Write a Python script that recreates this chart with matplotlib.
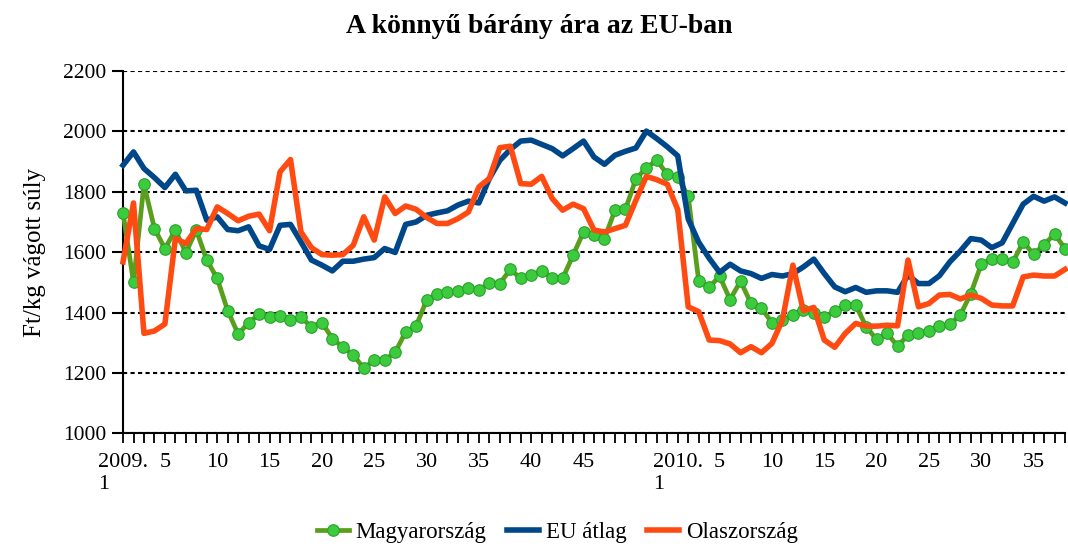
import matplotlib

matplotlib.use("Agg")

import matplotlib.pyplot as plt


# ADATOK

# 2009. 1-53. hét, majd 2010. 1-38. hét
HETEK_2009 = list(range(1, 54))
HETEK_2010 = list(range(1, 39))

magyarorszag = [
    1730, 1500, 1825, 1678, 1612, 1673, 1598, 1673, 1574, 1513,
    1406, 1329, 1366, 1394, 1384, 1390, 1375, 1384, 1353, 1367,
    1314, 1285, 1260, 1215, 1243, 1243, 1268, 1336, 1355, 1441,
    1463, 1469, 1471, 1480, 1474, 1499, 1496, 1543, 1513, 1524,
    1538, 1515, 1513, 1590, 1667, 1656, 1645, 1739, 1742, 1842,
    1880, 1904, 1858, 1849, 1785, 1505, 1484, 1520, 1443, 1504,
    1430, 1414, 1367, 1375, 1392, 1410, 1400, 1384, 1405, 1425,
    1425, 1353, 1311, 1331, 1289, 1325, 1331, 1340, 1355, 1361,
    1392, 1463, 1560, 1577, 1576, 1566, 1634, 1593, 1625, 1660,
    1612,
]

eu_atlag = [
    1888, 1932, 1877, 1847, 1814, 1858, 1803, 1805, 1706, 1717,
    1675, 1671, 1684, 1621, 1609, 1689, 1692, 1634, 1574, 1557,
    1538, 1570, 1570, 1577, 1582, 1612, 1599, 1692, 1700, 1722,
    1730, 1737, 1756, 1769, 1763, 1844, 1904, 1940, 1968, 1971,
    1957, 1943, 1919, 1943, 1968, 1915, 1891, 1921, 1934, 1945,
    2001, 1976, 1949, 1919, 1710, 1633, 1580, 1533, 1560, 1538,
    1529, 1513, 1526, 1521, 1529, 1551, 1577, 1529, 1485, 1469,
    1483, 1467, 1472, 1472, 1467, 1524, 1496, 1496, 1522, 1568,
    1604, 1645, 1640, 1615, 1631, 1695, 1759, 1785, 1769, 1783,
    1763,
]

olaszorszag = [
    1568, 1763, 1331, 1339, 1362, 1645, 1629, 1678, 1675, 1750,
    1728, 1704, 1719, 1726, 1671, 1866, 1907, 1667, 1615, 1592,
    1590, 1592, 1623, 1717, 1640, 1783, 1728, 1753, 1742, 1715,
    1695, 1695, 1711, 1733, 1816, 1844, 1946, 1951, 1827, 1825,
    1851, 1778, 1739, 1759, 1744, 1673, 1667, 1678, 1689, 1772,
    1851, 1840, 1825, 1741, 1419, 1403, 1309, 1307, 1296, 1267,
    1287, 1267, 1298, 1375, 1557, 1406, 1417, 1309, 1285, 1331,
    1364, 1355, 1355, 1358, 1356, 1574, 1419, 1430, 1458, 1460,
    1445, 1458, 1447, 1425, 1422, 1422, 1518, 1524, 1521, 1521,
    1543,
]

CIMKEZETT_HETEK = [5, 10, 15, 20, 25, 30, 35, 40, 45]

Y_TICKS = [1000, 1200, 1400, 1600, 1800, 2000, 2200]


# SZÍNEK, BETŰK

ZOLD_VONAL = "#5a9e1e"
ZOLD_PONT = "#3ccb3c"
KEK = "#00478a"
NARANCS = "#ff4a12"

plt.rcParams["font.family"] = ["Liberation Serif", "DejaVu Serif"]


# X TENGELY CÍMKÉI

kategoriak = (
    [(2009, h) for h in HETEK_2009]
    + [(2010, h) for h in HETEK_2010]
)
x = list(range(len(kategoriak)))

x_cimkek = []
for ev, het in kategoriak:
    if het == 1:
        x_cimkek.append(f"{ev}.\n1")
    elif het in CIMKEZETT_HETEK:
        x_cimkek.append(str(het))
    else:
        x_cimkek.append("")


# ÁBRA

fig = plt.figure(figsize=(10.68, 5.47), dpi=100)
ax = fig.add_axes([0.1152, 0.2078, 0.8820, 0.6624])

ax.plot(
    x,
    magyarorszag,
    color=ZOLD_VONAL,
    linewidth=3.4,
    marker="o",
    markersize=8.3,
    markerfacecolor=ZOLD_PONT,
    markeredgecolor="#27a12a",
    markeredgewidth=0.8,
    label="Magyarország",
    clip_on=False,
    zorder=3
)

ax.plot(
    x,
    eu_atlag,
    color=KEK,
    linewidth=4.0,
    label="EU átlag",
    clip_on=False,
    zorder=4
)

ax.plot(
    x,
    olaszorszag,
    color=NARANCS,
    linewidth=4.0,
    label="Olaszország",
    clip_on=False,
    zorder=5
)

ax.set_xlim(0, len(x) - 1)
ax.set_ylim(1000, 2200)

ax.set_yticks(Y_TICKS)
ax.set_yticklabels([str(v) for v in Y_TICKS], fontsize=15.5)

ax.set_xticks(x)
ax.set_xticklabels(x_cimkek, fontsize=16)
for cimke in ax.get_xticklabels():
    if "\n" in cimke.get_text():
        cimke.set_multialignment("left")

ax.tick_params(axis="x", direction="out", length=7, width=1.3, pad=7)
ax.tick_params(axis="y", direction="out", length=8, width=1.5, pad=4)

ax.grid(
    axis="y",
    color="black",
    linestyle=(0, (2, 1.6)),
    linewidth=1.5
)
ax.set_axisbelow(True)

for oldal in ["top", "right"]:
    ax.spines[oldal].set_visible(False)
for oldal in ["left", "bottom"]:
    ax.spines[oldal].set_linewidth(1.5)

ax.set_ylabel("Ft/kg vágott súly", fontsize=18, labelpad=12)

fig.suptitle(
    "A könnyű bárány ára az EU-ban",
    fontsize=20,
    fontweight="bold",
    x=0.505,
    y=0.975
)

fig.legend(
    loc="lower center",
    bbox_to_anchor=(0.522, -0.03),
    ncol=3,
    frameon=False,
    fontsize=16.5,
    handlelength=1.4,
    columnspacing=0.9,
    handletextpad=0.3
)

fig.savefig("out.png", dpi=100)
plt.close(fig)
